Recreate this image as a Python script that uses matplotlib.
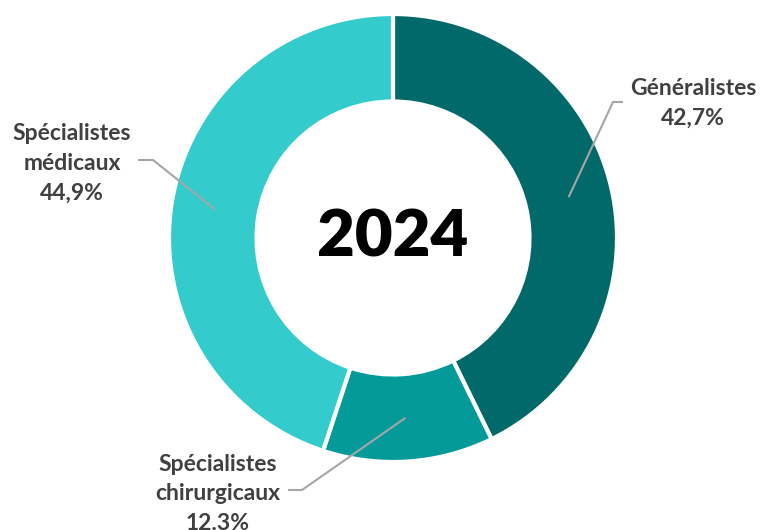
import matplotlib
matplotlib.use("Agg")
import matplotlib.pyplot as plt
import numpy as np

# Répartition des médecins par catégorie, 2024
categories = ["Généralistes", "Spécialistes chirurgicaux", "Spécialistes médicaux"]
shares = [42.7, 12.3, 44.9]
labels = ["Généralistes\n42,7%", "Spécialistes\nchirurgicaux\n12.3%", "Spécialistes\nmédicaux\n44,9%"]
colors = ["#01696A", "#039A99", "#33CBCB"]
year = "2024"

W, H = 763, 530
fig = plt.figure(figsize=(W / 100, H / 100), dpi=100)
ax = fig.add_axes([0, 0, 1, 1])

CX, CY = 393, H - 238
R_OUT, RING = 224, 87.5

wedges, _ = ax.pie(shares, colors=colors, startangle=90, counterclock=False,
                   radius=R_OUT, center=(CX, CY),
                   wedgeprops=dict(width=RING, edgecolor="white", linewidth=3))
ax.set_xlim(0, W)
ax.set_ylim(0, H)
ax.set_aspect("equal")
ax.axis("off")

ax.text(CX, CY, year, ha="center", va="center", fontsize=47,
        fontweight="heavy", family="Lato", color="black")

# label text position and leader-line elbow/end (pixel coordinates, y from top)
layout = [
    dict(text=(693, 103), elbow=(613, 102), end=(623, 102)),
    dict(text=(218, 494), elbow=(302, 490), end=(288, 490)),
    dict(text=(72, 163), elbow=(153, 160), end=(138, 160)),
]

r_mid = R_OUT - RING / 2
for w, lab, lay in zip(wedges, labels, layout):
    ang = np.deg2rad((w.theta1 + w.theta2) / 2)
    x0, y0 = CX + r_mid * np.cos(ang), CY + r_mid * np.sin(ang)
    ex, ey = lay["elbow"]
    fx, fy = lay["end"]
    ax.plot([x0, ex, fx], [y0, H - ey, H - fy], color="#A6A6A6", lw=1.5,
            solid_capstyle="butt")
    tx, ty = lay["text"]
    ax.text(tx, H - ty, lab, ha="center", va="center", fontsize=16.5,
            fontweight="bold", family="Lato", color="#404040", linespacing=1.52)

fig.savefig("out.png", dpi=100)
